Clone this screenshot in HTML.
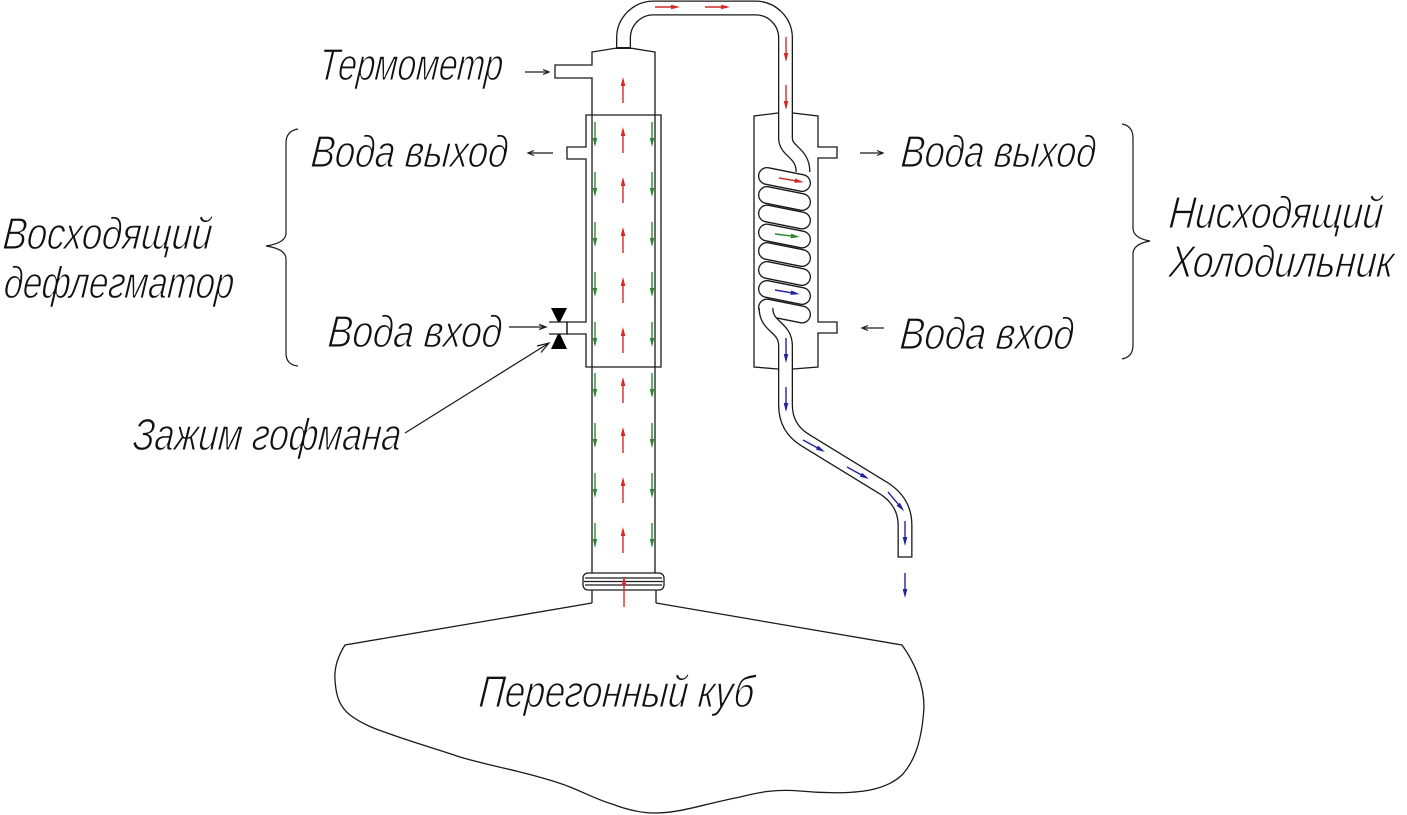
<!DOCTYPE html>
<html lang="ru">
<head>
<meta charset="utf-8">
<title>Схема дистилляции</title>
<style>
  html,body{margin:0;padding:0;background:#fff;}
  svg{display:block;}
  .t{font-family:"Liberation Sans","DejaVu Sans",sans-serif;font-style:italic;font-size:45px;fill:#111;stroke:#fff;stroke-width:1.1px;}
</style>
</head>
<body>
<svg width="1407" height="815" viewBox="0 0 1407 815" xmlns="http://www.w3.org/2000/svg">
  <rect width="1407" height="815" fill="#fff"/>
  <defs>
    <g id="ru"><line x1="0" y1="3" x2="0" y2="26" stroke="#d42a2a" stroke-width="1.4"/><polygon points="0,0 -2.3,9 2.3,9" fill="#d42a2a"/></g>
    <g id="rd"><line x1="0" y1="0" x2="0" y2="22" stroke="#d42a2a" stroke-width="1.4"/><polygon points="0,25 -2.3,16 2.3,16" fill="#d42a2a"/></g>
    <g id="rr"><line x1="0" y1="0" x2="22" y2="0" stroke="#d42a2a" stroke-width="1.4"/><polygon points="25,0 16,-2.3 16,2.3" fill="#d42a2a"/></g>
    <g id="gd"><line x1="0" y1="0" x2="0" y2="22" stroke="#2a8a2a" stroke-width="1.4"/><polygon points="0,25 -2.2,16 2.2,16" fill="#2a8a2a"/></g>
    <g id="gr"><line x1="0" y1="0" x2="22" y2="0" stroke="#2a8a2a" stroke-width="1.4"/><polygon points="25,0 16,-2.3 16,2.3" fill="#2a8a2a"/></g>
    <g id="bd"><line x1="0" y1="0" x2="0" y2="22" stroke="#2323a0" stroke-width="1.4"/><polygon points="0,25 -2.3,16 2.3,16" fill="#2323a0"/></g>
    <g id="br"><line x1="0" y1="0" x2="22" y2="0" stroke="#2323a0" stroke-width="1.4"/><polygon points="25,0 16,-2.3 16,2.3" fill="#2323a0"/></g>
  </defs>

  <g fill="none" stroke="#1a1a1a" stroke-width="1.3" stroke-linejoin="miter">
    <!-- Flask -->
    <path d="M592,603 L345,645 C338,656 334,667 335,680 C336,697 340,707 350,715 C362,724 375,729 390,734 C415,743 440,750 460,757 C480,763 500,767 520,772 C540,777 555,781 570,787 C585,793 598,800 612,804 C625,809 640,813 655,813 C680,813 700,805 740,797 C760,792 775,789 800,791 C820,793 850,794 870,790 C885,787 895,782 903,774 C915,760 922,740 924,707 C924,685 915,663 902,645 L656,603"/>
    <line x1="592" y1="590" x2="592" y2="603"/>
    <line x1="656" y1="590" x2="656" y2="603"/>
    <!-- flange -->
    <rect x="583" y="573" width="81" height="17" rx="5" ry="5" fill="#fff"/>
    <line x1="585" y1="578" x2="662" y2="578"/>
    <line x1="584" y1="581.5" x2="663" y2="581.5"/>
    <line x1="585" y1="585" x2="662" y2="585"/>

    <!-- column tube & head -->
    <path d="M592,573 V78 H555 V65 H592 V52 L617,48"/>
    <path d="M630,48 L655,52 V573"/>

    <!-- jacket -->
    <path d="M586,115 V147 H567 V159 H586 V322 H567 V334 H586 V367 H661 V115 Z"/>
    <line x1="567" y1="322" x2="567" y2="334"/>

    <!-- condenser body -->
    <path d="M778,113 L754,116 V367 L778,369"/>
    <path d="M793,113 L818,116 V147 H837 V158 H818 V322 H837 V333 H818 V367 L793,369"/>
  </g>

  <!-- top vapor tube -->
  <path d="M623.5,49 V38 A30,30 0 0 1 653.5,8 H755.5 A30,30 0 0 1 785.5,38 V138 C785.5,152 803,152 803,172" fill="none" stroke="#1a1a1a" stroke-width="15"/>
  <path d="M623.5,47 V38 A30,30 0 0 1 653.5,8 H755.5 A30,30 0 0 1 785.5,38 V138 C785.5,152 803,152 803,172" fill="none" stroke="#fff" stroke-width="12.4"/>

  <!-- coil bands -->
  <g fill="none" stroke-linecap="round">
    <line x1="767" y1="176" x2="802" y2="183" stroke="#1a1a1a" stroke-width="18"/><line x1="767" y1="176" x2="802" y2="183" stroke="#fff" stroke-width="15.4"/>
    <line x1="767" y1="195" x2="802" y2="202" stroke="#1a1a1a" stroke-width="18"/><line x1="767" y1="195" x2="802" y2="202" stroke="#fff" stroke-width="15.4"/>
    <line x1="767" y1="213.5" x2="802" y2="220.5" stroke="#1a1a1a" stroke-width="18"/><line x1="767" y1="213.5" x2="802" y2="220.5" stroke="#fff" stroke-width="15.4"/>
    <line x1="767" y1="232.5" x2="802" y2="239.5" stroke="#1a1a1a" stroke-width="18"/><line x1="767" y1="232.5" x2="802" y2="239.5" stroke="#fff" stroke-width="15.4"/>
    <line x1="767" y1="251" x2="802" y2="258" stroke="#1a1a1a" stroke-width="18"/><line x1="767" y1="251" x2="802" y2="258" stroke="#fff" stroke-width="15.4"/>
    <line x1="767" y1="270" x2="802" y2="277" stroke="#1a1a1a" stroke-width="18"/><line x1="767" y1="270" x2="802" y2="277" stroke="#fff" stroke-width="15.4"/>
    <line x1="767" y1="289" x2="802" y2="296" stroke="#1a1a1a" stroke-width="18"/><line x1="767" y1="289" x2="802" y2="296" stroke="#fff" stroke-width="15.4"/>
    <line x1="767" y1="307.5" x2="802" y2="314.5" stroke="#1a1a1a" stroke-width="18"/><line x1="767" y1="307.5" x2="802" y2="314.5" stroke="#fff" stroke-width="15.4"/>
  </g>

  <!-- bottom S + drain tube -->
  <path d="M766,308 C766,328 785.5,326 785.5,346 V405 Q785.5,428 805,440 L880,486 Q905,500 905,525 V557" fill="none" stroke="#1a1a1a" stroke-width="15" stroke-linejoin="round"/>
  <path d="M766,308 C766,328 785.5,326 785.5,346 V405 Q785.5,428 805,440 L880,486 Q905,500 905,525 V557" fill="none" stroke="#fff" stroke-width="12.4" stroke-linejoin="round"/>
  <line x1="897.5" y1="557" x2="912.5" y2="557" stroke="#1a1a1a" stroke-width="1.3"/>

  <!-- valve -->
  <polygon points="551,308 567,308 560,322 558,322" fill="#000"/>
  <polygon points="558,334 560,334 567,349 551,349" fill="#000"/>
  <line x1="549" y1="322" x2="568" y2="322" stroke="#1a1a1a" stroke-width="1.3"/>
  <line x1="549" y1="334" x2="568" y2="334" stroke="#1a1a1a" stroke-width="1.3"/>

  <!-- label arrows & braces -->
  <g fill="none" stroke="#1a1a1a" stroke-width="1.2">
    <path d="M525,72 H549 M543,69.5 L549,72 L543,74.5"/>
    <path d="M553,153 H528 M534,150.5 L528,153 L534,155.5"/>
    <path d="M509,327 H546 M539,324.5 L546,327 L539,329.5"/>
    <path d="M860,153 H883 M877,150.5 L883,153 L877,155.5"/>
    <path d="M884,328 H862 M868,325.5 L862,328 L868,330.5"/>
    <path d="M405,433 L549,343 M537,346 L549,343 L541,352.5"/>
    <path d="M298,129 Q286,131 286,143 L286,233 Q286,243 266,246 Q286,249 286,259 L286,353 Q286,365 298,366"/>
    <path d="M1122,124 Q1133,126 1133,138 L1133,228 Q1133,238 1150,241 Q1133,244 1133,254 L1133,345 Q1133,357 1122,359"/>
  </g>

  <!-- red vapor arrows -->
  <use href="#ru" x="623" y="77"/>
  <use href="#ru" x="623" y="127"/>
  <use href="#ru" x="623" y="177"/>
  <use href="#ru" x="623" y="227"/>
  <use href="#ru" x="623" y="277"/>
  <use href="#ru" x="623" y="327"/>
  <use href="#ru" x="623" y="377"/>
  <use href="#ru" x="623" y="427"/>
  <use href="#ru" x="623" y="477"/>
  <use href="#ru" x="623" y="527"/>
  <line x1="624" y1="580" x2="624" y2="607" stroke="#d42a2a" stroke-width="1.4"/>
  <polygon points="624,576 621.7,585 626.3,585" fill="#d42a2a"/>

  <!-- green reflux arrows -->
  <use href="#gd" x="595" y="122"/><use href="#gd" x="652" y="122"/>
  <use href="#gd" x="595" y="172"/><use href="#gd" x="652" y="172"/>
  <use href="#gd" x="595" y="222"/><use href="#gd" x="652" y="222"/>
  <use href="#gd" x="595" y="272"/><use href="#gd" x="652" y="272"/>
  <use href="#gd" x="595" y="322"/><use href="#gd" x="652" y="322"/>
  <use href="#gd" x="595" y="373"/><use href="#gd" x="652" y="373"/>
  <use href="#gd" x="595" y="423"/><use href="#gd" x="652" y="423"/>
  <use href="#gd" x="595" y="473"/><use href="#gd" x="652" y="473"/>
  <use href="#gd" x="595" y="523"/><use href="#gd" x="652" y="523"/>

  <!-- top tube arrows -->
  <use href="#rr" x="655" y="7"/>
  <use href="#rr" x="705" y="7"/>
  <use href="#rd" x="786" y="37"/>
  <use href="#rd" x="786" y="85"/>

  <!-- coil arrows -->
  <use href="#rr" transform="translate(779,178) rotate(9.5)"/>
  <use href="#gr" transform="translate(775,234) rotate(7)"/>
  <use href="#br" transform="translate(775,290) rotate(9.5)"/>

  <!-- distillate arrows -->
  <use href="#bd" x="786" y="338"/>
  <use href="#bd" x="786" y="387"/>
  <use href="#br" transform="translate(803,440) rotate(28.6)"/>
  <use href="#br" transform="translate(847,467) rotate(28.8)"/>
  <use href="#br" transform="translate(888,492) rotate(50)"/>
  <use href="#bd" x="905" y="521"/>
  <use href="#bd" x="905" y="573"/>

  <!-- labels -->
  <text class="t" transform="translate(318,80) skewX(-5)" textLength="184" lengthAdjust="spacingAndGlyphs">Термометр</text>
  <text class="t" transform="translate(310,167) skewX(-5)" textLength="197" lengthAdjust="spacingAndGlyphs">Вода выход</text>
  <text class="t" transform="translate(2,249) skewX(-5)" textLength="209" lengthAdjust="spacingAndGlyphs">Восходящий</text>
  <text class="t" transform="translate(3,298) skewX(-5)" textLength="230" lengthAdjust="spacingAndGlyphs">дефлегматор</text>
  <text class="t" transform="translate(327,347) skewX(-5)" textLength="174" lengthAdjust="spacingAndGlyphs">Вода вход</text>
  <text class="t" transform="translate(132,450) skewX(-5)" textLength="268" lengthAdjust="spacingAndGlyphs">Зажим гофмана</text>
  <text class="t" transform="translate(900,167) skewX(-5)" textLength="195" lengthAdjust="spacingAndGlyphs">Вода выход</text>
  <text class="t" transform="translate(1168,228) skewX(-5)" textLength="214" lengthAdjust="spacingAndGlyphs">Нисходящий</text>
  <text class="t" transform="translate(1168,277) skewX(-5)" textLength="225" lengthAdjust="spacingAndGlyphs">Холодильник</text>
  <text class="t" transform="translate(899,349) skewX(-5)" textLength="174" lengthAdjust="spacingAndGlyphs">Вода вход</text>
  <text class="t" transform="translate(478,707) skewX(-5)" textLength="275" lengthAdjust="spacingAndGlyphs">Перегонный куб</text>
</svg>
</body>
</html>
